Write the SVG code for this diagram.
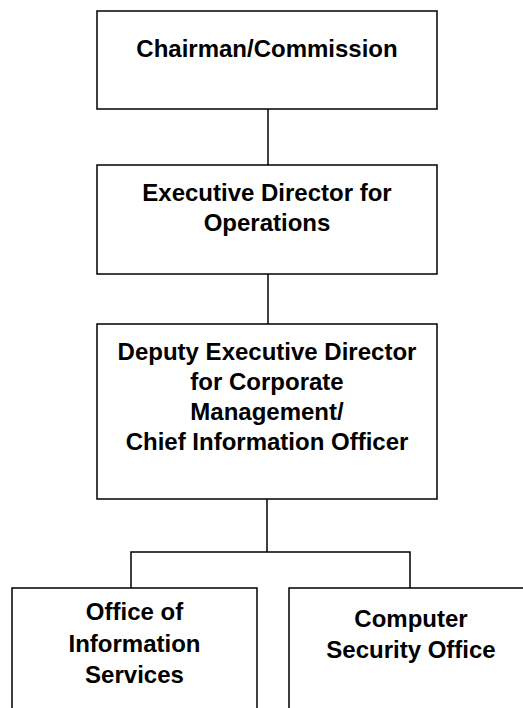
<svg xmlns="http://www.w3.org/2000/svg" width="523" height="708" viewBox="0 0 523 708">
  <style>
    .box { fill: #ffffff; stroke: #000000; stroke-width: 1.5; }
    .link { fill: none; stroke: #000000; stroke-width: 1.5; }
    .label { font-family: "Liberation Sans", Arial, sans-serif; font-size: 24px; font-weight: bold; fill: #000000; text-anchor: middle; }
  </style>
  <rect width="523" height="708" fill="#ffffff"/>

  <!-- reporting lines -->
  <g id="connectors">
    <line class="link" x1="268" y1="109" x2="268" y2="165"/>
    <line class="link" x1="268" y1="274" x2="268" y2="324"/>
    <line class="link" x1="267" y1="499" x2="267" y2="552"/>
    <polyline class="link" points="131,588 131,552 410,552 410,588"/>
  </g>

  <g id="chairman">
    <rect class="box" x="97" y="11" width="340" height="98"/>
    <text class="label" x="267" y="57">Chairman/Commission</text>
  </g>

  <g id="edo">
    <rect class="box" x="97" y="165" width="340" height="109"/>
    <text class="label" x="267" y="201">Executive Director for</text>
    <text class="label" x="267" y="231">Operations</text>
  </g>

  <g id="dedcm-cio">
    <rect class="box" x="97" y="324" width="340" height="175"/>
    <text class="label" x="267" y="360">Deputy Executive Director</text>
    <text class="label" x="267" y="390">for Corporate</text>
    <text class="label" x="267" y="420">Management/</text>
    <text class="label" x="267" y="450">Chief Information Officer</text>
  </g>

  <g id="ois">
    <rect class="box" x="12" y="588" width="245" height="140"/>
    <text class="label" x="134.5" y="620">Office of</text>
    <text class="label" x="134.5" y="652">Information</text>
    <text class="label" x="134.5" y="683">Services</text>
  </g>

  <g id="cso">
    <rect class="box" x="289" y="588" width="244" height="140"/>
    <text class="label" x="411" y="627">Computer</text>
    <text class="label" x="411" y="658">Security Office</text>
  </g>
</svg>
